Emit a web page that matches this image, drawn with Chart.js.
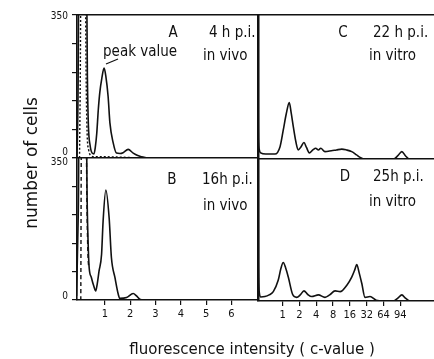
<!DOCTYPE html>
<html>
<head>
<meta charset="utf-8">
<script src="https://cdn.jsdelivr.net/npm/chart.js@4.4.1/dist/chart.umd.min.js"></script>
<style>
  html, body { margin: 0; padding: 0; background: #fff; }
  #wrap { position: relative; width: 434px; height: 359px; }
  #wrap canvas { position: absolute; left: 0; top: 0; width: 434px; height: 359px; }
</style>
</head>
<body>
<div id="wrap">
  <canvas id="panelA" width="434" height="359"></canvas>
  <canvas id="panelB" width="434" height="359"></canvas>
  <canvas id="panelC" width="434" height="359"></canvas>
  <canvas id="panelD" width="434" height="359"></canvas>
</div>
<script>
// tick labels
const leftTicks = [1, 2, 3, 4, 5, 6];
const rightTickLabels = ['1', '2', '4', '8', '16', '32', '64', '94'];
const yTickLabels = [0, 350];

// histograms, [c-value, number of cells]; right panels use the tick index of rightTickLabels on x
const aSolid = [[-0.1,0],[-0.06,150],[-0.02,500],[0.27,500],[0.31,200],[0.35,80],[0.42,30],[0.5,12],[0.57,10],[0.62,25],[0.68,60],[0.74,117],[0.8,160],[0.88,195],[0.97,220],[1.04,200],[1.13,150],[1.2,86],[1.33,37],[1.46,12],[1.6,11],[1.72,13],[1.92,21],[2.12,12],[2.3,6],[2.45,3],[2.66,0]];
const aDotted = [[0.0,0],[0.03,200],[0.06,500],[0.22,500],[0.26,200],[0.3,60],[0.36,20],[0.45,6],[0.6,3],[1.0,3],[1.6,2],[2.4,0]];
const bSolid = [[-0.12,10],[-0.1,60],[-0.07,150],[-0.04,270],[-0.02,500],[0.26,500],[0.3,250],[0.35,120],[0.38,80],[0.47,55],[0.56,35],[0.64,22],[0.7,40],[0.77,71],[0.87,112],[0.93,193],[1.04,271],[1.17,202],[1.26,104],[1.4,55],[1.53,14],[1.59,4],[1.86,6],[2.12,16],[2.25,10],[2.38,2],[2.6,0]];
const bDashed = [[0.05,0],[0.08,500],[0.25,500],[0.29,250],[0.34,100],[0.38,80]];
const cSolid = [[-1.45,500],[-1.44,120],[-1.42,40],[-1.38,22],[-1.3,15],[-1.0,12],[-0.45,12],[-0.15,30],[0.04,70],[0.22,110],[0.4,137],[0.52,110],[0.64,78],[0.8,40],[0.93,22],[1.1,30],[1.27,40],[1.42,28],[1.59,15],[1.8,22],[1.97,26],[2.13,22],[2.27,26],[2.52,18],[2.9,20],[3.2,22],[3.52,24],[3.8,22],[4.11,18],[4.4,10],[4.61,4],[4.9,0],[6.59,0],[6.85,8],[7.09,18],[7.3,8],[7.54,0],[9.0,0]];
const dSolid = [[-1.45,500],[-1.43,100],[-1.38,20],[-1.3,10],[-1.05,11],[-0.8,15],[-0.55,23],[-0.26,51],[-0.1,80],[0.04,95],[0.18,82],[0.34,59],[0.6,16],[0.84,9],[1.05,15],[1.27,25],[1.5,16],[1.73,11],[2.13,15],[2.52,9],[2.8,15],[3.12,25],[3.42,23],[3.82,39],[4.11,59],[4.3,78],[4.41,90],[4.55,70],[4.71,43],[4.9,9],[5.2,11],[5.56,2],[6.0,0],[6.59,0],[6.85,7],[7.09,15],[7.3,7],[7.58,0],[9.0,0]];

const ink = '#111';
const cond = "'DejaVu Sans Condensed', 'DejaVu Sans', sans-serif";
const sans = "'DejaVu Sans', sans-serif";

// free text drawn on top of each panel
const notes = {
  panelA: [
    { t: 'A', x: 173, y: 33, align: 'center' },
    { t: '4 h p.i.', x: 209, y: 33 },
    { t: 'in vivo', x: 203, y: 56 },
    { t: 'peak value', x: 103, y: 52 }
  ],
  panelB: [
    { t: 'B', x: 172, y: 180, align: 'center' },
    { t: '16h p.i.', x: 202, y: 180 },
    { t: 'in vivo', x: 203, y: 206 }
  ],
  panelC: [
    { t: 'C', x: 343, y: 33, align: 'center' },
    { t: '22 h p.i.', x: 373, y: 33 },
    { t: 'in vitro', x: 369, y: 56 }
  ],
  panelD: [
    { t: 'D', x: 345, y: 177, align: 'center' },
    { t: '25h p.i.', x: 373, y: 177 },
    { t: 'in vitro', x: 369, y: 202 }
  ]
};

const textPlugin = {
  id: 'panelText',
  afterDraw(chart, args, opts) {
    const ctx = chart.ctx;
    ctx.save();
    ctx.fillStyle = ink;
    ctx.textBaseline = 'middle';
    ctx.font = '15px ' + cond;
    (notes[chart.canvas.id] || []).forEach(n => {
      ctx.textAlign = n.align || 'left';
      ctx.fillText(n.t, n.x, n.y);
    });
    // y tick labels, nudged so the 0 / 350 of stacked panels do not collide
    if (opts.yLabels) {
      const ys = chart.scales.y;
      ctx.font = '10px ' + cond;
      ctx.textAlign = 'right';
      yTickLabels.forEach((v, i) => {
        ctx.fillText(String(v), chart.chartArea.left - 9, ys.getPixelForValue(v) + opts.yLabels[i]);
      });
    }
    if (chart.canvas.id === 'panelA') {
      ctx.strokeStyle = ink;
      ctx.lineWidth = 1.2;
      ctx.beginPath();
      ctx.moveTo(118, 59);
      ctx.lineTo(106, 64);
      ctx.stroke();
    }
    if (chart.canvas.id === 'panelD') {
      ctx.textAlign = 'center';
      ctx.font = '15px ' + sans;
      ctx.fillText('fluorescence intensity ( c-value )', 252, 350);
      ctx.translate(33, 163);
      ctx.rotate(-Math.PI / 2);
      ctx.font = '17px ' + sans;
      ctx.fillText('number of cells', 0, 0);
    }
    ctx.restore();
  }
};

function panel(id, cfg) {
  const area = cfg.area;
  const yW = 30;
  const xH = cfg.xTicks ? 26 : 0;
  const lineSets = cfg.series.map(s => ({
    data: s.points.map(p => ({ x: p[0], y: p[1] })),
    borderColor: ink,
    borderWidth: s.width || 1.6,
    borderDash: s.dash || [],
    pointRadius: 0,
    cubicInterpolationMode: 'monotone',
    fill: false
  }));
  const xScale = {
    type: 'linear',
    position: 'bottom',
    min: cfg.xMin,
    max: cfg.xMax,
    border: { display: true, color: ink, width: 1.6 },
    grid: { display: !!cfg.xTicks, drawOnChartArea: false, color: ink, tickLength: 5, lineWidth: 1.2 },
    ticks: { display: !!cfg.xTicks, color: ink, padding: 3, maxRotation: 0, autoSkip: false,
      font: { family: cond, size: 11 },
      callback: v => cfg.xTickText ? cfg.xTickText(v) : String(v) },
    afterBuildTicks: axis => { if (cfg.xTicks) axis.ticks = cfg.xTicks.map(v => ({ value: v })); },
    afterFit: s => { s.height = xH; }
  };
  const yScale = {
    type: 'linear',
    position: 'left',
    min: 0,
    max: 350,
    border: { display: true, color: ink, width: cfg.yBorder || 1.6 },
    grid: { display: !!cfg.yTicks, drawOnChartArea: false, color: ink, tickLength: 5, lineWidth: 1.2 },
    ticks: { display: false, stepSize: 70 },
    afterFit: s => { s.width = yW; }
  };
  const scales = { x: xScale, y: yScale };
  if (cfg.topLine) {
    scales.top = {
      type: 'linear', axis: 'x', position: 'top',
      border: { display: true, color: ink, width: 1.4 },
      grid: { display: false }, ticks: { display: false },
      afterFit: s => { s.height = 0; }
    };
  }
  return new Chart(document.getElementById(id), {
    type: 'line',
    data: { datasets: lineSets },
    options: {
      responsive: false,
      animation: false,
      events: [],
      layout: { padding: { left: area.left - yW, top: area.top, right: 434 - area.right, bottom: 359 - area.bottom - xH } },
      plugins: {
        legend: { display: false },
        tooltip: { enabled: false },
        panelText: { yLabels: cfg.yLabels || null }
      },
      scales: scales
    },
    plugins: [textPlugin]
  });
}

const rightLabel = v => rightTickLabels[Math.round(v)] || '';

panel('panelA', {
  area: { left: 77, top: 15, right: 258, bottom: 158 },
  xMin: -0.1, xMax: 7.05, topLine: true, yTicks: true, yLabels: [-6, 1],
  series: [{ points: aSolid }, { points: aDotted, dash: [2, 2], width: 1.4 }]
});
panel('panelB', {
  area: { left: 77, top: 158, right: 258, bottom: 300 },
  xMin: -0.1, xMax: 7.05, yTicks: true, yLabels: [-4, 4],
  xTicks: leftTicks,
  series: [{ points: bSolid }, { points: bDashed, dash: [4, 3], width: 1.4 }]
});
panel('panelC', {
  area: { left: 258, top: 15, right: 434, bottom: 159 },
  xMin: -1.46, xMax: 9.0, topLine: true, yBorder: 2.5,
  series: [{ points: cSolid }]
});
panel('panelD', {
  area: { left: 258, top: 159, right: 434, bottom: 301 },
  xMin: -1.46, xMax: 9.0, yBorder: 2.5,
  xTicks: rightTickLabels.map((l, i) => i), xTickText: rightLabel,
  series: [{ points: dSolid }]
});
</script>
</body>
</html>
